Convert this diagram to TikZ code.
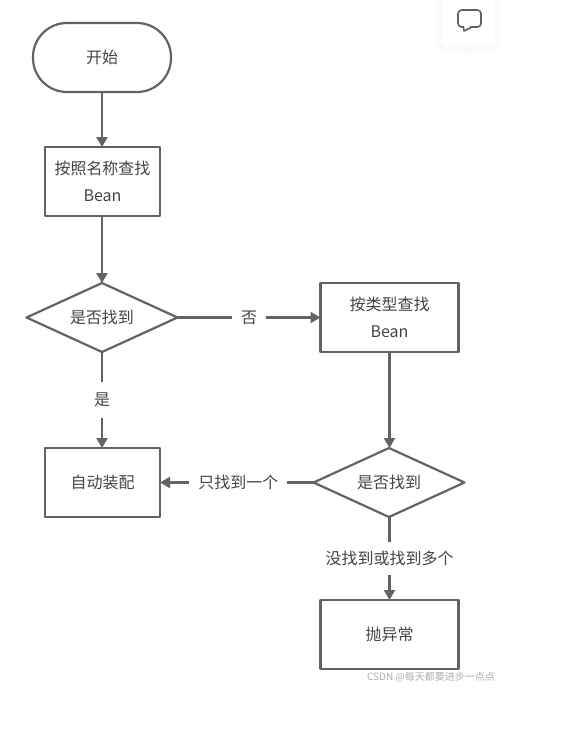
\documentclass[tikz,border=0pt]{standalone}
\usepackage{fontspec}
\setmainfont{Noto Sans CJK SC}
\usepackage{xcolor}
\usetikzlibrary{arrows.meta,shapes.geometric}
\definecolor{linegray}{HTML}{636363}
\definecolor{textgray}{HTML}{444444}
\tikzset{
  boxv/.style={rectangle, draw=linegray, line width=2.2pt, text=textgray, font=\fontsize{16}{27}\selectfont, align=center, inner sep=0pt, outer sep=0pt},
  startv/.style={boxv, rounded corners=34pt, minimum width=138pt, minimum height=69pt},
  procv/.style={boxv, minimum width=115pt, minimum height=69pt},
  widev/.style={boxv, minimum width=138pt, minimum height=69pt},
  askv/.style={diamond, aspect=2.19, draw=linegray, line width=2.2pt, text=textgray, font=\fontsize{16}{18}\selectfont, inner sep=0pt, outer sep=0pt, minimum width=151pt, minimum height=69pt},
  flow/.style={draw=linegray, line width=2.2pt, -{Triangle[length=10pt,width=11pt]}},
  edgetxt/.style={fill=white, text=textgray, font=\fontsize{16}{18}\selectfont, inner sep=9pt},
  every picture/.style={line cap=round, line join=round}
}
\begin{document}
\begin{tikzpicture}[x=1pt,y=-1pt]
    \useasboundingbox (0,0) rectangle (574,740);
    \fill[white] (0,0) rectangle (574,740);

    % comment bubble
    \fill[black!1] (436,0) rectangle (501,51);
    \fill[black!2] (439,0) rectangle (498,48);
    \fill[black!2] (458,46)--(469,56)--(480,46)--cycle;
    \fill[white] (442,0) rectangle (495,45);
    \draw[linegray, line width=1.6pt, rounded corners=3.5pt] (458,10) rectangle (481,27);
    \fill[white] (464,26) rectangle (470,28.5);
    \draw[linegray, line width=1.6pt] (463.5,27)--(464,31)--(471,27.5);

    \node[startv] (S) at (102,57.5) {开始};
    \node[procv] (A) at (102.5,181.5) {按照名称查找\\Bean};
    \node[askv] (Q) at (102,317.5) {是否找到};
    \node[widev] (B) at (389.5,317.5) {按类型查找\\Bean};
    \node[procv] (W) at (102.5,482.5) {自动装配};
    \node[askv] (R) at (389,482.5) {是否找到};
    \node[widev] (E) at (389.5,634.5) {抛异常};

    \draw[flow] (S)--(S |- A.north);
    \draw[flow] (A.south -| S)--(Q);
    \draw[flow] (Q)-- node[edgetxt] {否} (B);
    \draw[flow] (Q)-- node[edgetxt, inner ysep=11pt] {是} (Q |- W.north);
    \draw[flow] (B)--(B |- R.north);
    \draw[flow] (R)-- node[edgetxt, pos=0.49] {只找到一个} (W);
    \draw[flow] (R.south -| E)-- node[edgetxt, inner xsep=1pt] {没找到或找到多个} (E);

    \node[text=black!32, font=\fontsize{10}{11}\selectfont, inner sep=0pt] (C) at (431,677) {CSDN @每天都要进步一点点};
  \end{tikzpicture}
\end{document}
